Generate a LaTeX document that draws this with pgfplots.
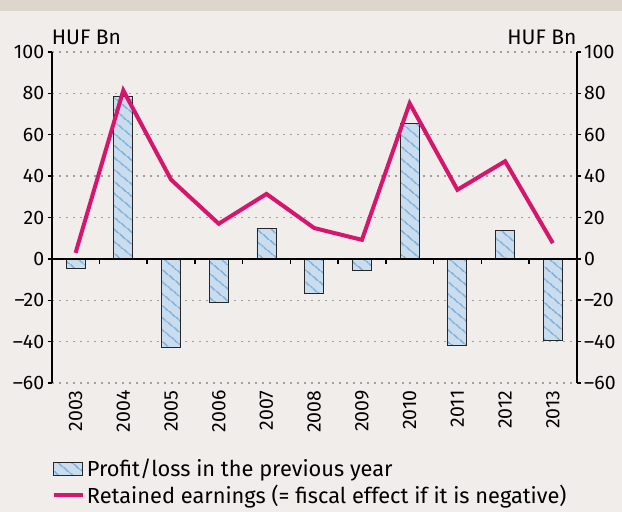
\documentclass[border=0pt]{standalone}
\usepackage{fontspec}
\setmainfont{Fira Sans}
\usepackage{pgfplots}
\pgfplotsset{compat=1.18}
\usetikzlibrary{patterns.meta}
\definecolor{bgcol}{RGB}{240,237,234}
\definecolor{bandcol}{RGB}{221,214,204}
\definecolor{barfill}{RGB}{201,221,238}
\definecolor{hatchcol}{RGB}{120,172,216}
\definecolor{linecol}{RGB}{214,21,108}
\definecolor{gridcol}{RGB}{160,160,160}
\newcommand\tickfont{\fontsize{19.5bp}{23bp}\selectfont}
\newcommand\unitfont{\fontsize{21bp}{24bp}\selectfont}
\newcommand\legfont{\fontsize{21.8bp}{25bp}\selectfont}
\pgfplotsset{
  barlegend/.style={legend image code/.code={\draw[##1] (0bp,-6.5bp) rectangle (29bp,6.5bp);}},
  linelegend/.style={legend image code/.code={\draw[##1] (0bp,0bp) -- (29bp,0bp);}},
  common/.style={
    at={(0,0)}, anchor=south west,
    scale only axis, width=525bp, height=331bp,
    xmin=-0.5, xmax=10.5, ymin=-60, ymax=100,
    ytick={-60,-40,...,100},
    yticklabels={--60,--40,--20,0,20,40,60,80,100},
    tick align=outside,
    major tick length=4bp,
    tick style={black, line width=1.5bp},
    y axis line style={line width=2bp},
    tick label style={font=\tickfont},
    clip=false,
  }
}
\begin{document}
\begin{tikzpicture}
\fill[bgcol] (-51.7bp,-129bp) rectangle (570.3bp,383bp);
\fill[bandcol] (-51.7bp,372bp) rectangle (570.3bp,383bp);
\begin{axis}[common,
  axis lines*=left,
  x axis line style={draw=none},
  xtick={0,...,10},
  xticklabels={2003,2004,2005,2006,2007,2008,2009,2010,2011,2012,2013},
  xtick style={draw=none},
  x tick label style={rotate=90, anchor=east},
  ymajorgrids,
  grid style={dash pattern=on 2bp off 5bp, line width=1.3bp, gridcol},
  legend style={at={(0,-0.224)}, anchor=north west, draw=none, fill=none,
    inner sep=0pt, row sep=3bp, font=\legfont},
  legend cell align=left,
]
\addplot[ybar, bar width=19bp, fill=barfill, draw=black!85, line width=0.8bp,
  postaction={pattern={Lines[angle=-40,distance=9.5bp,line width=1.7bp]}, pattern color=hatchcol},
  barlegend]
coordinates {(0,-4.8) (1,78.4) (2,-43) (3,-21.2) (4,14.5) (5,-16.6) (6,-5.5) (7,65.6) (8,-41.6) (9,13.6) (10,-39.6)};
\addlegendentry{Profit/loss in the previous year}
\draw[line width=2bp] (axis cs:-0.5,0) -- (axis cs:10.5,0);
\pgfplotsinvokeforeach{0.5,1.5,...,9.5}{\draw[line width=1.5bp] (axis cs:#1,0) -- ++(0bp,-5bp);}
\addplot[linecol, line width=4bp, mark=none, miter limit=4, linelegend]
coordinates {(0,2.9) (1,81.4) (2,38.3) (3,17) (4,31.4) (5,14.9) (6,9.2) (7,75.2) (8,33.4) (9,47.2) (10,7.6)};
\addlegendentry{Retained earnings (= fiscal effect if it is negative)}
\node[anchor=base west, inner sep=0pt, font=\unitfont] at ([yshift=7bp]rel axis cs:0,1) {HUF Bn};
\node[anchor=base east, inner sep=0pt, font=\unitfont] at ([yshift=7bp]rel axis cs:1,1) {HUF Bn};
\end{axis}
\begin{axis}[common,
  axis y line*=right, axis x line=none,
  yticklabel style={anchor=west},
]
\end{axis}
\pgfresetboundingbox
\path[use as bounding box] (-51.7bp,-129bp) rectangle (570.3bp,383bp);
\end{tikzpicture}
\end{document}
